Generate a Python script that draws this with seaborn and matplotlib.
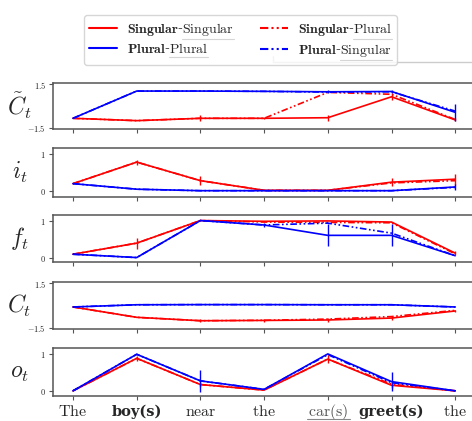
import numpy as np
import matplotlib
matplotlib.use("Agg")
import matplotlib.pyplot as plt
from matplotlib.lines import Line2D
import seaborn as sns

sns.set_style("white")
plt.rcParams["mathtext.fontset"] = "cm"
plt.rcParams["font.family"] = ["DejaVu Serif"]

words = ["The", "boy(s)", "near", "the", "car(s)", "greet(s)", "the"]
bold_words = [False, True, False, False, False, True, False]
gates = [r"$\tilde{C}_t$", r"$i_t$", r"$f_t$", r"$C_t$", r"$o_t$"]

# gate values per condition (SS = Singular-Singular, PP = Plural-Plural,
# SP = Singular-Plural, PS = Plural-Singular)
ct_ss = [-0.84, -1.0, -0.84, -0.84, -0.80, 0.63, -0.95]
ct_pp = [-0.84, 1.02, 1.02, 1.0, 0.97, 0.99, -0.43]
ct_sp = [-0.84, -1.0, -0.84, -0.84, 0.93, 0.80, -0.92]
ct_ps = [-0.84, 1.02, 1.02, 1.0, 0.95, 0.97, -0.35]
ct_ss_err = [0, 0, 0.2, 0.05, 0.2, 0.25, 0.1]
ct_pp_err = [0, 0, 0, 0, 0.1, 0.1, 0.6]

i_ss = [0.2, 0.78, 0.28, 0.02, 0.02, 0.24, 0.32]
i_pp = [0.2, 0.05, 0.01, 0.01, 0.01, 0.01, 0.11]
i_sp = [0.2, 0.78, 0.28, 0.02, 0.02, 0.22, 0.28]
i_ps = [0.2, 0.05, 0.01, 0.01, 0.01, 0.01, 0.1]
i_ss_err = [0, 0.07, 0.12, 0, 0, 0.1, 0.15]
i_pp_err = [0, 0, 0, 0, 0, 0, 0.07]

f_ss = [0.09, 0.39, 1.0, 0.98, 0.99, 0.96, 0.12]
f_pp = [0.09, 0.0, 1.0, 0.88, 0.60, 0.60, 0.05]
f_sp = [0.09, 0.39, 1.0, 0.96, 0.95, 0.94, 0.1]
f_ps = [0.09, 0.0, 1.0, 0.88, 0.93, 0.66, 0.05]
f_ss_err = [0, 0.15, 0, 0, 0, 0, 0.05]
f_pp_err = [0, 0, 0, 0.05, 0.3, 0.3, 0]

c_ss = [-0.1, -0.8, -1.03, -1.01, -0.98, -0.85, -0.37]
c_pp = [-0.1, 0.05, 0.06, 0.06, 0.05, 0.05, -0.1]
c_sp = [-0.1, -0.8, -1.03, -1.0, -0.92, -0.75, -0.33]
c_ps = [-0.1, 0.05, 0.06, 0.06, 0.05, 0.05, -0.1]
c_ss_err = [0, 0, 0.1, 0.1, 0.15, 0.15, 0.08]
c_pp_err = [0, 0, 0, 0, 0, 0, 0]

o_ss = [0.0, 0.88, 0.17, 0.02, 0.86, 0.15, 0.0]
o_pp = [0.0, 0.99, 0.27, 0.04, 1.0, 0.25, 0.0]
o_sp = [0.0, 0.88, 0.17, 0.02, 0.86, 0.18, 0.0]
o_ps = [0.0, 0.99, 0.27, 0.04, 0.98, 0.22, 0.0]
o_ss_err = [0, 0.06, 0.06, 0, 0.1, 0.08, 0]
o_pp_err = [0, 0, 0.3, 0, 0, 0.25, 0]

panels = [
    (ct_ss, ct_pp, ct_sp, ct_ps, ct_ss_err, ct_pp_err),
    (i_ss, i_pp, i_sp, i_ps, i_ss_err, i_pp_err),
    (f_ss, f_pp, f_sp, f_ps, f_ss_err, f_pp_err),
    (c_ss, c_pp, c_sp, c_ps, c_ss_err, c_pp_err),
    (o_ss, o_pp, o_sp, o_ps, o_ss_err, o_pp_err),
]
yticks = [[-1.5, 1.5], [0, 1], [0, 1], [-1.5, 1.5], [0, 1]]
ylims = [(-1.57, 1.57), (-0.16, 1.16), (-0.12, 1.15), (-1.59, 1.59), (-0.14, 1.16)]
# axes boxes in pixels (top, bottom)
boxes = [(83, 129), (148, 197), (215, 262), (282, 329), (348, 396)]

W, H = 472, 421
red, blue = "#ff0000", "#0000ff"
dashdot = (0, (4, 1.5, 1, 1.5, 1, 1.5))
legend_fs = 10

fig = plt.figure(figsize=(W / 100, H / 100), dpi=100)
x = np.arange(len(words))

for k, (ss, pp, sp, ps, ss_err, pp_err) in enumerate(panels):
    top, bot = boxes[k]
    ax = fig.add_axes([53 / W, 1 - bot / H, (474 - 53) / W, (bot - top) / H])
    sns.lineplot(x=x, y=ss, ax=ax, color=red, lw=1.2)
    sns.lineplot(x=x, y=sp, ax=ax, color=red, lw=1.2, linestyle=dashdot)
    sns.lineplot(x=x, y=pp, ax=ax, color=blue, lw=1.2)
    sns.lineplot(x=x, y=ps, ax=ax, color=blue, lw=1.2, linestyle=dashdot)
    ax.errorbar(x, ss, yerr=ss_err, fmt="none", ecolor=red, elinewidth=1.0)
    ax.errorbar(x, pp, yerr=pp_err, fmt="none", ecolor=blue, elinewidth=1.0)
    ax.set_xlim(-0.314, 6.295)
    ax.set_ylim(*ylims[k])
    ax.set_yticks(yticks[k])
    ax.set_yticklabels(["$%g$" % t if t >= 0 else "$-%g$" % -t for t in yticks[k]], fontsize=6)
    ax.set_xticks(x)
    ax.tick_params(axis="both", direction="out", length=3, width=0.8,
                   color="#555555", pad=2, left=True, bottom=True)
    if k == len(panels) - 1:
        labels = [w if b else r"$\mathrm{%s}$" % w for w, b in zip(words, bold_words)]
        ax.set_xticklabels(labels)
        ax.tick_params(axis="x", pad=11.2)
        for lab, b in zip(ax.get_xticklabels(), bold_words):
            lab.set_va("baseline")
            if b:
                lab.set_fontfamily("DejaVu Serif")
                lab.set_fontweight("bold")
                lab.set_fontsize(10.5)
            else:
                lab.set_fontsize(11.5)
        ax.get_xticklabels()[4].set_color("#555555")
        last_ax = ax
    else:
        ax.set_xticklabels([])
    for sp_ in ax.spines.values():
        sp_.set_color("#555555")
        sp_.set_linewidth(1.1)
    ax.set_ylabel(gates[k], rotation=0, fontsize=17, ha="center", va="center")
    ax.yaxis.set_label_coords(-0.08, 0.5)

handles = [
    Line2D([], [], color=red, lw=1.5),
    Line2D([], [], color=blue, lw=1.5),
    Line2D([], [], color=red, lw=1.5, linestyle=dashdot),
    Line2D([], [], color=blue, lw=1.5, linestyle=dashdot),
]
leg_first = ["Singular", "Plural", "Singular", "Plural"]
leg_second = ["Singular", "Plural", "Plural", "Singular"]
leg_labels = [r"$\mathbf{%s}$-$\mathrm{%s}$" % (a, b) for a, b in zip(leg_first, leg_second)]

fig.add_artist(Line2D([273 / W, 273 / W, 1.0], [1 - 56 / H, 1 - 62 / H, 1 - 62 / H],
                      color="#cccccc", lw=1.0))
leg = fig.legend(handles, leg_labels, ncol=2, loc="upper center",
                 bbox_to_anchor=(240.5 / W, 1 - 8 / H), fontsize=legend_fs,
                 frameon=True, fancybox=True, handlelength=2.0, handletextpad=0.7,
                 columnspacing=1.9, labelspacing=0.35, borderpad=0.4)
leg.get_frame().set_edgecolor("#cccccc")
leg.get_frame().set_linewidth(1.0)

# underline the second word of each legend entry and the "car(s)" tick label
fig.canvas.draw()
renderer = fig.canvas.get_renderer()


def underline(x0, x1, y, color):
    fig.add_artist(Line2D([x0 / W, x1 / W], [y / H, y / H], color=color, lw=0.8))


for txt, second in zip(leg.get_texts(), leg_second):
    bb = txt.get_window_extent(renderer)
    tmp = fig.text(0, 0, r"$\mathrm{%s}$" % second, fontsize=legend_fs)
    w = tmp.get_window_extent(renderer).width
    tmp.remove()
    underline(bb.x1 - w, bb.x1, bb.y0 - 1, "#333333")

bb = last_ax.get_xticklabels()[4].get_window_extent(renderer)
underline(bb.x0 - 1, bb.x1 + 2, 2.0, "#888888")

fig.savefig("out.png", dpi=100)
